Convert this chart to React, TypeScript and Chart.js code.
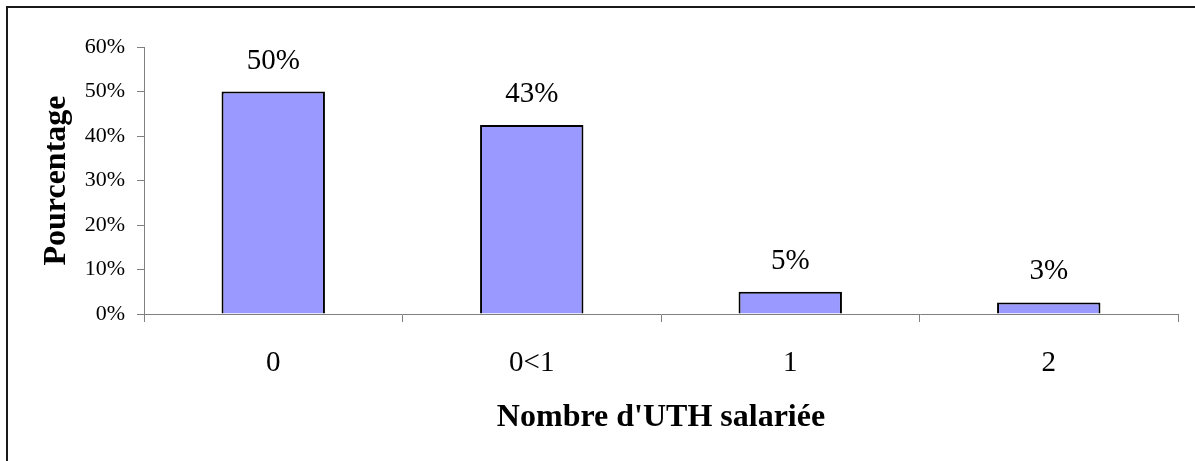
import React, { useEffect, useRef } from "react";
import { Chart, registerables } from "chart.js";

Chart.register(...registerables);

const categories: string[] = ["0", "0<1", "1", "2"];
const values: number[] = [50, 42.5, 5, 2.6];
const valueLabels: string[] = ["50%", "43%", "5%", "3%"];
const yTicks: number[] = [0, 10, 20, 30, 40, 50, 60];

const FONT = '"Liberation Serif", "Times New Roman", serif';

const dataLabelPlugin = {
  id: "dataLabels",
  afterDatasetsDraw(chart: any) {
    const { ctx } = chart;
    const meta = chart.getDatasetMeta(0);
    ctx.save();
    ctx.font = `29px ${FONT}`;
    ctx.fillStyle = "#000";
    ctx.textAlign = "center";
    ctx.textBaseline = "alphabetic";
    meta.data.forEach((bar: any, i: number) => {
      ctx.fillText(valueLabels[i], bar.x, bar.y - 23);
    });
    ctx.restore();
  },
};

export default function App() {
  const canvasRef = useRef<HTMLCanvasElement | null>(null);

  useEffect(() => {
    if (!canvasRef.current) return;
    const chart = new Chart(canvasRef.current, {
      type: "bar",
      data: {
        labels: categories,
        datasets: [
          {
            data: values,
            backgroundColor: "#9999ff",
            borderColor: "#000000",
            borderWidth: 2,
            barPercentage: 0.4,
            categoryPercentage: 1,
          },
        ],
      },
      options: {
        responsive: false,
        animation: false,
        devicePixelRatio: 1,
        layout: { padding: { left: 38, top: 47, right: 17, bottom: 0 } },
        plugins: {
          legend: { display: false },
          tooltip: { enabled: false },
        },
        scales: {
          x: {
            grid: {
              offset: true,
              drawOnChartArea: false,
              drawTicks: true,
              tickLength: 8,
              color: "#808080",
            },
            border: { color: "#808080", width: 1 },
            ticks: {
              color: "#000",
              font: { family: FONT, size: 29 },
              padding: 24,
              maxRotation: 0,
            },
            title: {
              display: true,
              text: "Nombre d'UTH salariée",
              color: "#000",
              font: { family: FONT, size: 32, weight: "bold" },
              padding: { top: 0, bottom: 24 },
            },
            afterFit: (scale: any) => {
              scale.height = 147;
            },
          },
          y: {
            min: 0,
            max: 60,
            afterBuildTicks: (scale: any) => {
              scale.ticks = yTicks.map((v) => ({ value: v }));
            },
            grid: {
              drawOnChartArea: false,
              drawTicks: true,
              tickLength: 7,
              color: "#808080",
            },
            border: { color: "#808080", width: 1 },
            ticks: {
              color: "#000",
              font: { family: FONT, size: 22 },
              padding: 12,
              callback: (v: any) => `${v}%`,
            },
            title: {
              display: true,
              text: "Pourcentage",
              color: "#000",
              font: { family: FONT, size: 32, weight: "bold" },
              padding: { top: 0, bottom: 0 },
            },
            afterFit: (scale: any) => {
              scale.width = 106;
            },
          },
        },
      },
      plugins: [dataLabelPlugin],
    });
    return () => chart.destroy();
  }, []);

  return (
    <div
      style={{
        position: "fixed",
        left: 0,
        top: 0,
        width: 1195,
        height: 461,
        overflow: "hidden",
        background: "#fff",
      }}
    >
      <div
        style={{
          position: "absolute",
          left: 6,
          top: 6,
          width: 1300,
          height: 600,
          borderTop: "2px solid #1a1a1a",
          borderLeft: "2px solid #1a1a1a",
        }}
      />
      <canvas
        ref={canvasRef}
        width={1195}
        height={461}
        style={{ position: "absolute", left: 0, top: 0, display: "block" }}
      />
    </div>
  );
}
